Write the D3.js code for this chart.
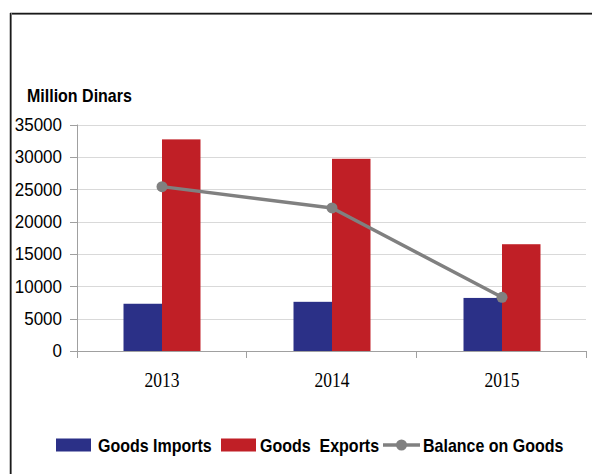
<!DOCTYPE html>
<html>
<head>
<meta charset="utf-8">
<script src="https://cdn.jsdelivr.net/npm/d3@7"></script>
<style>
  html, body { margin: 0; padding: 0; background: #fff; }
  svg { display: block; }
</style>
</head>
<body>
<svg id="chart" width="592" height="474"></svg>
<script>
// Trade in goods, million dinars
const years = ["2013", "2014", "2015"];
const goodsImports = [7300, 7600, 8200];
const goodsExports = [32700, 29700, 16500];
const balanceOnGoods = [25400, 22100, 8300];
const yTicks = [0, 5000, 10000, 15000, 20000, 25000, 30000, 35000];

const seriesNames = ["Goods Imports", "Goods  Exports", "Balance on Goods"];
const colors = { imports: "#2B3087", exports: "#C01F26", balance: "#808080" };

const svg = d3.select("#chart");

// Frame lines (top and left)
svg.append("line").attr("x1", 10).attr("x2", 592).attr("y1", 14.5).attr("y2", 14.5)
  .attr("stroke", "#9a9a9a").attr("stroke-width", 1);
svg.append("line").attr("x1", 10).attr("x2", 592).attr("y1", 13.5).attr("y2", 13.5)
  .attr("stroke", "#1a1a1a").attr("stroke-width", 1.5);
svg.append("line").attr("x1", 11.5).attr("x2", 11.5).attr("y1", 13).attr("y2", 474)
  .attr("stroke", "#9a9a9a").attr("stroke-width", 1);
svg.append("line").attr("x1", 10.5).attr("x2", 10.5).attr("y1", 13).attr("y2", 474)
  .attr("stroke", "#1a1a1a").attr("stroke-width", 1.5);

const plot = { left: 77, right: 587, top: 124.5, bottom: 351 };

const y = d3.scaleLinear().domain([0, 35000]).range([plot.bottom, plot.top]);
const x = d3.scaleBand().domain(years).range([plot.left, plot.right]).paddingInner(0).paddingOuter(0);
const xSub = d3.scaleBand().domain(["imports", "exports"]).range([0, x.bandwidth()])
  .paddingInner(0).paddingOuter(1.208);

// Gridlines
svg.append("g").selectAll("line").data(yTicks.filter(d => d > 0)).join("line")
  .attr("x1", plot.left).attr("x2", plot.right - 1)
  .attr("y1", d => Math.round(y(d)) + 0.5).attr("y2", d => Math.round(y(d)) + 0.5)
  .attr("stroke", "#d9d9d9").attr("stroke-width", 1.2);

// Y axis line and ticks
const axisColor = "#a0a0a0";
svg.append("line").attr("x1", plot.left + 0.5).attr("x2", plot.left + 0.5)
  .attr("y1", plot.top).attr("y2", plot.bottom + 7).attr("stroke", axisColor);
svg.append("g").selectAll("line").data(yTicks).join("line")
  .attr("x1", plot.left - 7).attr("x2", plot.left)
  .attr("y1", d => Math.round(y(d)) + 0.5).attr("y2", d => Math.round(y(d)) + 0.5)
  .attr("stroke", axisColor);

// Y tick labels
svg.append("g").selectAll("text").data(yTicks).join("text")
  .attr("transform", d => `translate(62,${y(d) + 6.3}) scale(1,1.09)`)
  .attr("text-anchor", "end")
  .attr("font-family", "'Liberation Sans', Arial, sans-serif")
  .attr("font-size", 17)
  .attr("fill", "#000")
  .text(d => d);

// Unit label
svg.append("text")
  .attr("transform", "translate(27,101.5) scale(1,1.15)")
  .attr("font-family", "'Liberation Sans', Arial, sans-serif")
  .attr("font-size", 16).attr("font-weight", "bold")
  .attr("fill", "#000")
  .text("Million Dinars");

// Bars
const groups = svg.append("g").selectAll("g").data(years).join("g")
  .attr("transform", d => `translate(${x(d)},0)`);
groups.append("rect")
  .attr("x", xSub("imports")).attr("width", xSub.bandwidth())
  .attr("y", (d, i) => y(goodsImports[i]))
  .attr("height", (d, i) => y(0) - y(goodsImports[i]))
  .attr("fill", colors.imports);
groups.append("rect")
  .attr("x", xSub("exports")).attr("width", xSub.bandwidth())
  .attr("y", (d, i) => y(goodsExports[i]))
  .attr("height", (d, i) => y(0) - y(goodsExports[i]))
  .attr("fill", colors.exports);

// X axis baseline and category ticks
svg.append("line").attr("x1", plot.left).attr("x2", plot.right)
  .attr("y1", plot.bottom + 0.5).attr("y2", plot.bottom + 0.5).attr("stroke", axisColor);
svg.append("g").selectAll("line").data(years).join("line")
  .attr("x1", d => x(d) + x.bandwidth() - 0.5).attr("x2", d => x(d) + x.bandwidth() - 0.5)
  .attr("y1", plot.bottom).attr("y2", plot.bottom + 7).attr("stroke", axisColor);

// X labels
svg.append("g").selectAll("text").data(years).join("text")
  .attr("transform", d => `translate(${x(d) + x.bandwidth() / 2},387) scale(1,1.25)`)
  .attr("text-anchor", "middle")
  .attr("font-family", "'Liberation Serif', 'Times New Roman', serif")
  .attr("font-size", 17.5)
  .attr("fill", "#000")
  .text(d => d);

// Balance line
const cx = d => x(d) + x.bandwidth() / 2;
const line = d3.line().x((d, i) => cx(years[i])).y(d => y(d));
svg.append("path").datum(balanceOnGoods)
  .attr("d", line).attr("fill", "none")
  .attr("stroke", colors.balance).attr("stroke-width", 3.5).attr("stroke-linejoin", "round");
svg.append("g").selectAll("circle").data(balanceOnGoods).join("circle")
  .attr("cx", (d, i) => cx(years[i])).attr("cy", d => y(d)).attr("r", 5.5)
  .attr("fill", colors.balance);

// Legend
const legend = svg.append("g");
const legendFont = "'Liberation Sans', Arial, sans-serif";
legend.append("rect").attr("x", 56).attr("y", 438.5).attr("width", 35).attr("height", 13).attr("fill", colors.imports);
legend.append("text").attr("transform", "translate(98,452) scale(1,1.15)")
  .attr("font-family", legendFont).attr("font-size", 16).attr("font-weight", "bold").text(seriesNames[0]);
legend.append("rect").attr("x", 221).attr("y", 438.5).attr("width", 35).attr("height", 13).attr("fill", colors.exports);
legend.append("text").attr("transform", "translate(260,452) scale(1,1.15)")
  .attr("font-family", legendFont).attr("font-size", 16).attr("font-weight", "bold")
  .attr("xml:space", "preserve").style("white-space", "pre").text(seriesNames[1]);
legend.append("line").attr("x1", 383).attr("x2", 420).attr("y1", 445).attr("y2", 445)
  .attr("stroke", colors.balance).attr("stroke-width", 3.5);
legend.append("circle").attr("cx", 401.5).attr("cy", 445).attr("r", 5.5).attr("fill", colors.balance);
legend.append("text").attr("transform", "translate(423,452) scale(1,1.15)")
  .attr("font-family", legendFont).attr("font-size", 16).attr("font-weight", "bold").text(seriesNames[2]);
</script>
</body>
</html>
